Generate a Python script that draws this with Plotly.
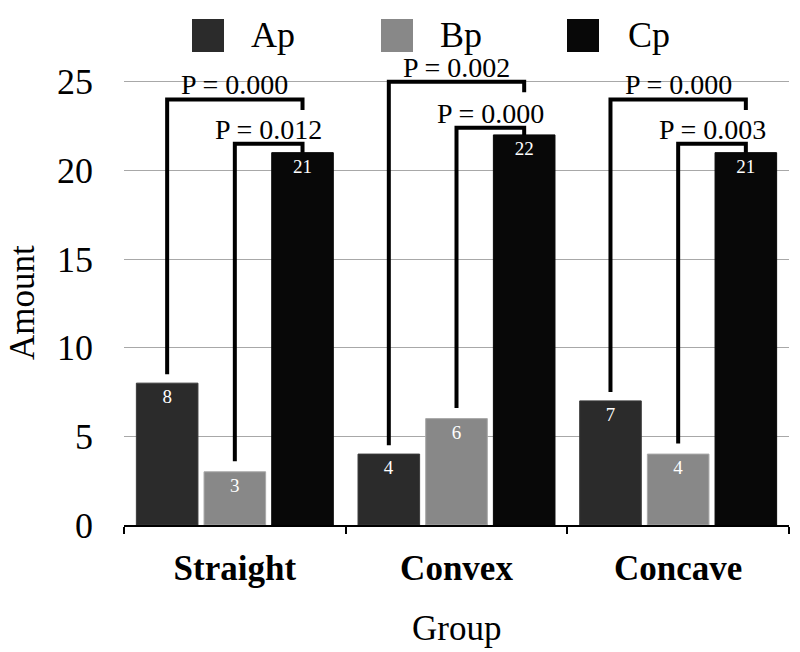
import plotly.graph_objects as go

# ---- data ----
groups = ["Straight", "Convex", "Concave"]
series_names = ["Ap", "Bp", "Cp"]
ap_values = [8, 4, 7]
bp_values = [3, 6, 4]
cp_values = [21, 22, 21]
# significance brackets (Ap vs Cp = outer, Bp vs Cp = inner)
p_outer = ["0.000", "0.002", "0.000"]
p_inner = ["0.012", "0.000", "0.003"]
outer_top = [24.0, 25.0, 24.0]
inner_top = [21.5, 22.4, 21.5]
y_ticks = [0, 5, 10, 15, 20, 25]

colors = {"Ap": "#2b2b2b", "Bp": "#888888", "Cp": "#080808"}
line_colors = {"Ap": "#3a3a3a", "Bp": "#a8a8a8", "Cp": "#080808"}
FONT = "Liberation Serif"

W, H = 800, 652
ML, MR, MT, MB = 124, 11, 64, 127
PW, PH = W - ML - MR, H - MT - MB

def px_x(px):
    return (px - ML) / PW

def px_y(py):
    return (H - MB - py) / PH

bargap = 0.084
bargroupgap = 0.09
slot = (1 - bargap) / 3
offsets = [-slot, 0.0, slot]

fig = go.Figure()
for name, vals in zip(series_names, [ap_values, bp_values, cp_values]):
    fig.add_trace(go.Bar(
        x=groups, y=vals, name=name,
        marker=dict(color=colors[name], line=dict(color=line_colors[name], width=1)),
        text=[str(v) for v in vals], textposition="inside", insidetextanchor="end",
        textfont=dict(family=FONT, size=19, color="white"),
        constraintext="none", showlegend=False,
    ))

shapes = []
annotations = []
lw = 4
for i in range(len(groups)):
    xa = i + offsets[0]
    xb = i + offsets[1]
    xc = i + offsets[2]
    # outer bracket: Ap -> Cp
    shapes.append(dict(type="path", xref="x", yref="y",
                       path=f"M {xa},{ap_values[i] + 0.5} L {xa},{outer_top[i]} L {xc},{outer_top[i]} L {xc},{outer_top[i] - 0.6}",
                       line=dict(color="black", width=lw)))
    # inner bracket: Bp -> Cp
    shapes.append(dict(type="path", xref="x", yref="y",
                       path=f"M {xb},{bp_values[i] + 0.6} L {xb},{inner_top[i]} L {xc},{inner_top[i]} L {xc},{cp_values[i]}",
                       line=dict(color="black", width=lw)))
    annotations.append(dict(x=(xa + xc) / 2, y=outer_top[i], xref="x", yref="y",
                            text=f"P = {p_outer[i]}", showarrow=False, yanchor="bottom",
                            yshift=-2, borderpad=0,
                            font=dict(family=FONT, size=28, color="black")))
    annotations.append(dict(x=(xb + xc) / 2, y=inner_top[i], xref="x", yref="y",
                            text=f"P = {p_inner[i]}", showarrow=False, yanchor="bottom",
                            yshift=-2, borderpad=0,
                            font=dict(family=FONT, size=28, color="black")))

# manual legend
legend_sq_left = [192, 381, 567]
legend_txt_left = [250, 439, 627]
for name, sx, tx in zip(series_names, legend_sq_left, legend_txt_left):
    shapes.append(dict(type="rect", xref="paper", yref="paper",
                       x0=px_x(sx), x1=px_x(sx + 32), y0=px_y(52), y1=px_y(19),
                       fillcolor=colors[name], line=dict(width=0)))
    annotations.append(dict(x=px_x(tx), y=px_y(35), xref="paper", yref="paper",
                            text=name, showarrow=False, xanchor="left", yanchor="middle",
                            borderpad=0, font=dict(family=FONT, size=36, color="black")))

# axis titles
annotations.append(dict(x=px_x(22), y=px_y(303), xref="paper", yref="paper", text="Amount",
                        textangle=-90, showarrow=False, xanchor="center", yanchor="middle",
                        font=dict(family=FONT, size=35, color="black")))
annotations.append(dict(x=px_x(456), y=px_y(628), xref="paper", yref="paper", text="Group",
                        showarrow=False, xanchor="center", yanchor="middle",
                        font=dict(family=FONT, size=35, color="black")))

fig.update_layout(
    width=W, height=H,
    margin=dict(l=ML, r=MR, t=MT, b=MB, autoexpand=False),
    paper_bgcolor="white", plot_bgcolor="white",
    barmode="group", bargap=bargap, bargroupgap=bargroupgap,
    shapes=shapes, annotations=annotations,
    font=dict(family=FONT, color="black"),
)
fig.update_xaxes(
    type="category", range=[-0.5, 2.5],
    showline=True, linecolor="black", linewidth=2,
    ticks="outside", tickson="boundaries", ticklen=7, tickwidth=2, tickcolor="black",
    tickfont=dict(family=FONT, size=35, color="black"),
    tickprefix="<b>", ticksuffix="</b>", ticklabelstandoff=11,
    showgrid=False,
)
fig.update_yaxes(
    range=[0, 26], tickvals=y_ticks,
    showgrid=True, gridcolor="#a8a8a8", gridwidth=1,
    zeroline=False, showline=False, ticks="",
    tickfont=dict(family=FONT, size=36, color="black"),
    ticklabelstandoff=30,
)

fig.write_html("out.html")
